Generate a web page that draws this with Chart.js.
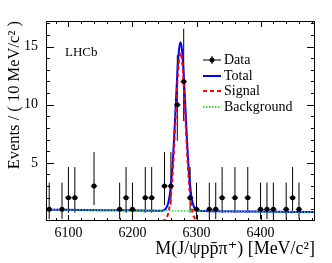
<!DOCTYPE html>
<html>
<head>
<meta charset="utf-8">
<script src="https://cdn.jsdelivr.net/npm/chart.js@4.4.1/dist/chart.umd.min.js"></script>
<style>
  body { margin: 0; background: #fff; }
  #c { display: block; }
</style>
</head>
<body>
<canvas id="c" width="332" height="263"></canvas>
<script>
// binned data, 10 MeV bins (empty bins are not drawn)
const massBins = [6070, 6090, 6100, 6110, 6140, 6180, 6190, 6200, 6220, 6230, 6250, 6260, 6270, 6280, 6290, 6300, 6320, 6330, 6340, 6360, 6380, 6400, 6410, 6420, 6440, 6450, 6460];
const counts   = [1, 1, 2, 2, 3, 1, 2, 1, 2, 2, 3, 3, 10, 12, 2, 1, 1, 1, 2, 2, 2, 1, 1, 1, 1, 2, 1];
const errLow   = [0.83, 0.83, 1.29, 1.29, 1.63, 0.83, 1.29, 0.83, 1.29, 1.29, 1.63, 1.63, 3.11, 3.41, 1.29, 0.83, 0.83, 0.83, 1.29, 1.29, 1.29, 0.83, 0.83, 0.83, 0.83, 1.29, 0.83];
const errHigh  = [2.30, 2.30, 2.64, 2.64, 2.92, 2.30, 2.64, 2.30, 2.64, 2.64, 2.92, 2.92, 4.26, 4.54, 2.64, 2.30, 2.30, 2.30, 2.64, 2.64, 2.64, 2.30, 2.30, 2.30, 2.30, 2.64, 2.30];
const binHalfWidth = 5;

// fit curves
const curveMass = [6065, 6150, 6240, 6248, 6252, 6256, 6259, 6262, 6265, 6268, 6271, 6273, 6275, 6277, 6279, 6282, 6285, 6288, 6291, 6294, 6298, 6302, 6310, 6400, 6485];
const totalFit  = [0.97, 0.93, 0.89, 0.91, 1.06, 1.57, 2.55, 4.36, 7.13, 10.47, 13.57, 14.87, 15.37, 14.87, 13.57, 10.47, 7.12, 4.34, 2.53, 1.55, 1.03, 0.89, 0.85, 0.81, 0.77];
const signalMass = [6246, 6248, 6252, 6256, 6259, 6262, 6265, 6268, 6271, 6273, 6275, 6277, 6279, 6282, 6285, 6288, 6291, 6294, 6298, 6302, 6304];
const signalFit  = [0.0, 0.03, 0.17, 0.69, 1.67, 3.48, 6.25, 9.6, 12.7, 14.0, 14.5, 14.0, 12.7, 9.6, 6.25, 3.48, 1.67, 0.69, 0.17, 0.03, 0.0];
const bkgMass = [6065, 6485];
const bkgFit  = [0.97, 0.77];

const xTicks = [6100, 6200, 6300, 6400];
const yTicks = [5, 10, 15];
const xRange = [6065, 6485];
const yRange = [0, 17.2];

const serif = "'Liberation Serif', 'DejaVu Serif', serif";

const toPoints = (xs, ys) => xs.map((x, i) => ({ x: x, y: ys[i] }));

// ROOT-like frame: ticks inside, error bars, legend, label
const rootFrame = {
    id: 'rootFrame',
    beforeDatasetsDraw(chart) {
        const ctx = chart.ctx;
        const xs = chart.scales.x, ys = chart.scales.y;
        ctx.save();
        ctx.strokeStyle = '#000';
        ctx.lineWidth = 1;
        massBins.forEach((m, i) => {
            const px = xs.getPixelForValue(m);
            const py = ys.getPixelForValue(counts[i]);
            ctx.beginPath();
            ctx.moveTo(px, ys.getPixelForValue(counts[i] - errLow[i]));
            ctx.lineTo(px, ys.getPixelForValue(counts[i] + errHigh[i]));
            ctx.moveTo(xs.getPixelForValue(m - binHalfWidth), py);
            ctx.lineTo(xs.getPixelForValue(m + binHalfWidth), py);
            ctx.stroke();
        });
        ctx.restore();
    },
    afterDraw(chart) {
        const ctx = chart.ctx;
        const a = chart.chartArea;
        const xs = chart.scales.x, ys = chart.scales.y;
        ctx.save();
        ctx.strokeStyle = '#000';
        ctx.lineWidth = 1;
        ctx.strokeRect(a.left + 0.5, a.top + 0.5, a.right - a.left - 1, a.bottom - a.top - 1);

        ctx.beginPath();
        for (let v = 6080; v <= xRange[1]; v += 20) {
            const px = Math.round(xs.getPixelForValue(v)) + 0.5;
            const len = v % 100 === 0 ? 6 : 3;
            ctx.moveTo(px, a.bottom); ctx.lineTo(px, a.bottom - len);
            ctx.moveTo(px, a.top); ctx.lineTo(px, a.top + len);
        }
        for (let v = 1; v <= 17; v += 1) {
            const py = Math.round(ys.getPixelForValue(v)) + 0.5;
            const len = v % 5 === 0 ? 8 : 4;
            ctx.moveTo(a.left, py); ctx.lineTo(a.left + len, py);
            ctx.moveTo(a.right, py); ctx.lineTo(a.right - len, py);
        }
        ctx.stroke();

        // legend
        const lx0 = 203, lx1 = 221, tx = 224;
        ctx.font = '14px ' + serif;
        ctx.fillStyle = '#000';
        ctx.textBaseline = 'middle';
        ctx.textAlign = 'left';

        let y = 60;
        ctx.beginPath();
        ctx.moveTo(lx0, y); ctx.lineTo(lx1, y);
        ctx.moveTo((lx0 + lx1) / 2, y - 4); ctx.lineTo((lx0 + lx1) / 2, y + 4);
        ctx.stroke();
        ctx.beginPath();
        ctx.arc((lx0 + lx1) / 2, y, 2.5, 0, Math.PI * 2);
        ctx.fill();
        ctx.fillText('Data', tx, y);

        y = 76;
        ctx.strokeStyle = '#0000ff'; ctx.lineWidth = 2;
        ctx.beginPath(); ctx.moveTo(lx0, y); ctx.lineTo(lx1, y); ctx.stroke();
        ctx.fillText('Total', tx, y);

        y = 91;
        ctx.strokeStyle = '#ff0000'; ctx.setLineDash([4, 3]);
        ctx.beginPath(); ctx.moveTo(lx0, y); ctx.lineTo(lx1, y); ctx.stroke();
        ctx.fillText('Signal', tx, y);

        y = 107;
        ctx.strokeStyle = '#33dd33'; ctx.setLineDash([1.5, 1.5]);
        ctx.beginPath(); ctx.moveTo(lx0, y); ctx.lineTo(lx1, y); ctx.stroke();
        ctx.setLineDash([]);
        ctx.fillText('Background', tx, y);

        ctx.font = '13px ' + serif;
        ctx.fillText('LHCb', 65, 53);
        ctx.restore();
    }
};

new Chart(document.getElementById('c'), {
    type: 'line',
    data: {
        datasets: [
            {
                label: 'Data',
                data: toPoints(massBins, counts),
                showLine: false,
                pointRadius: 2.5,
                pointHoverRadius: 2.5,
                pointBackgroundColor: '#000',
                pointBorderWidth: 0,
                order: 0,
            },
            {
                label: 'Background',
                data: toPoints(bkgMass, bkgFit),
                borderColor: '#33dd33',
                borderWidth: 1.5,
                borderDash: [1.5, 1.5],
                pointRadius: 0,
                order: 1,
            },
            {
                label: 'Signal',
                data: toPoints(signalMass, signalFit),
                borderColor: '#ff0000',
                borderWidth: 2,
                borderDash: [4, 3],
                pointRadius: 0,
                cubicInterpolationMode: 'monotone',
                order: 2,
            },
            {
                label: 'Total',
                data: toPoints(curveMass, totalFit),
                borderColor: '#0000ff',
                borderWidth: 2,
                pointRadius: 0,
                cubicInterpolationMode: 'monotone',
                order: 3,
            },
        ],
    },
    options: {
        responsive: false,
        animation: false,
        devicePixelRatio: 1,
        layout: { padding: { top: 21, right: 17, left: 0, bottom: 0 } },
        plugins: { legend: { display: false }, tooltip: { enabled: false } },
        scales: {
            x: {
                type: 'linear',
                min: xRange[0],
                max: xRange[1],
                afterBuildTicks: (s) => { s.ticks = xTicks.map(v => ({ value: v })); },
                afterFit: (s) => { s.height = 42; },
                grid: { display: false, drawTicks: false },
                border: { display: false },
                ticks: {
                    color: '#000',
                    font: { family: serif, size: 14 },
                    padding: 4,
                    maxRotation: 0,
                    callback: (v) => String(v),
                },
                title: {
                    display: true,
                    text: 'M(J/ψpp̄π⁺) [MeV/c²]',
                    align: 'end',
                    color: '#000',
                    font: { family: serif, size: 18 },
                    padding: { top: 0, bottom: 3 },
                },
            },
            y: {
                min: yRange[0],
                max: yRange[1],
                afterBuildTicks: (s) => { s.ticks = yTicks.map(v => ({ value: v })); },
                afterFit: (s) => { s.width = 46; },
                grid: { display: false, drawTicks: false },
                border: { display: false },
                ticks: { color: '#000', font: { family: serif, size: 14 }, padding: 8 },
                title: {
                    display: true,
                    text: 'Events / ( 10 MeV/c² )',
                    align: 'end',
                    color: '#000',
                    font: { family: serif, size: 16.5 },
                    padding: { top: 5, bottom: 0 },
                },
            },
        },
    },
    plugins: [rootFrame],
});
</script>
</body>
</html>
